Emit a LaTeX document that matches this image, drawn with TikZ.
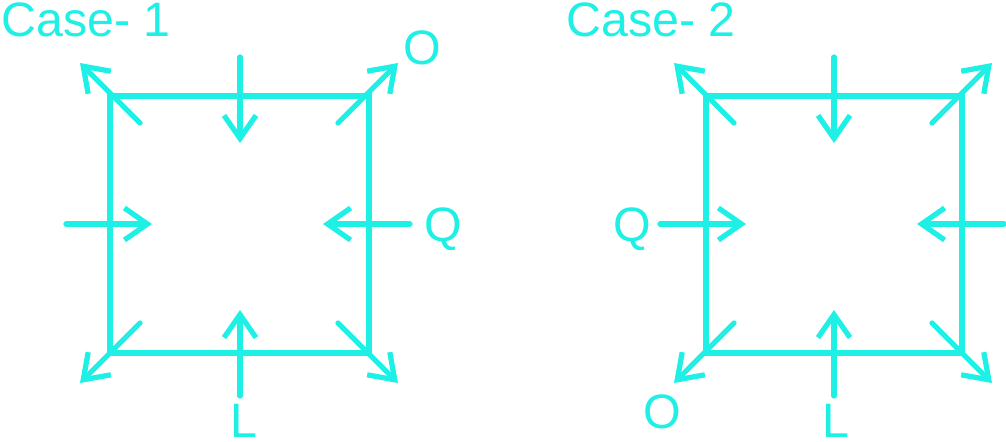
\documentclass[tikz,border=0pt]{standalone}
\usepackage{fontspec}
\setmainfont{Liberation Sans}
\usetikzlibrary{arrows.meta}

\definecolor{cyanline}{RGB}{30,240,230}

\begin{document}
\begin{tikzpicture}[x=0.02cm, y=-0.02cm,
        force/.style={color=cyanline, line width=0.105cm, line cap=round, -{Straight Barb[length=0.46cm, width=0.64cm]}},
        lbl/.style={color=cyanline, font=\fontsize{27.5}{32}\selectfont, inner sep=0pt}]
            \useasboundingbox (0,0) rectangle (1006,441);
            % case 1
            \draw[color=cyanline, line width=0.105cm] (110,96) rectangle (369,353);
            \draw[force] (240,57) -- (240,143);
            \draw[force] (240,396) -- (240,310);
            \draw[force] (66,224) -- (152,224);
            \draw[force] (410,224) -- (323,224);
            \draw[force] (140,123) -- (80,63);
            \draw[force] (338,123) -- (398,63);
            \draw[force] (140,323) -- (80,383);
            \draw[force] (338,323) -- (398,383);
            \node[lbl, anchor=base west] (case1) at (1,36) {Case- 1};
            \node[lbl, anchor=base] (o1) at (422,64) {O};
            \node[lbl, anchor=base] (q1) at (443,241) {Q};
            \node[lbl, anchor=base] (l1) at (244,437) {L};
            % case 2
            \draw[color=cyanline, line width=0.105cm] (706,96) rectangle (962,353);
            \draw[force] (834,57) -- (834,143);
            \draw[force] (834,396) -- (834,310);
            \draw[force] (660,224) -- (746,224);
            \draw[force] (1004,224) -- (917,224);
            \draw[force] (734,123) -- (674,63);
            \draw[force] (932,123) -- (992,63);
            \draw[force] (734,323) -- (674,383);
            \draw[force] (932,323) -- (992,383);
            \node[lbl, anchor=base west] (case2) at (566,36) {Case- 2};
            \node[lbl, anchor=base] (o2) at (662,428) {O};
            \node[lbl, anchor=base] (q2) at (632,241) {Q};
            \node[lbl, anchor=base] (l2) at (836,437) {L};
        \end{tikzpicture}
\end{document}
